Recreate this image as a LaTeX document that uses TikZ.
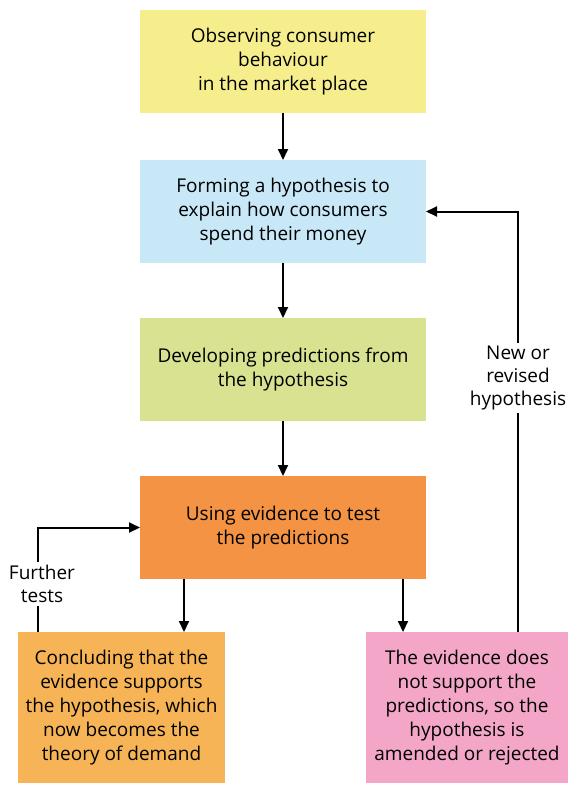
\documentclass[tikz,border=0pt]{standalone}
\usepackage{fontspec}
\setmainfont{Open Sans}
\usetikzlibrary{positioning,arrows.meta}
\definecolor{obsyellow}{HTML}{F6EE8C}
\definecolor{hypblue}{HTML}{C8E8F7}
\definecolor{predgreen}{HTML}{D8E291}
\definecolor{testorange}{HTML}{F39343}
\definecolor{conclorange}{HTML}{F6B457}
\definecolor{rejpink}{HTML}{F3A6C8}
\begin{document}
\begin{tikzpicture}[x=1pt,y=-1pt,>={Triangle[length=11pt,width=10pt]},line width=2pt,
    box/.style={rectangle, minimum width=286pt, minimum height=103pt, align=center, inner sep=0pt, outer sep=0pt, font=\fontsize{19}{24}\selectfont},
    endbox/.style={box, minimum height=151pt},
    lbl/.style={fill=white, align=center, inner sep=3pt, font=\fontsize{19}{23}\selectfont}]
    \useasboundingbox (0,0) rectangle (569,785);

    \node (observe) [box, fill=obsyellow] at (283,61.5) {Observing consumer\\behaviour\\in the market place};
    \node (hypo) [box, fill=hypblue, below=47pt of observe] {Forming a hypothesis to\\explain how consumers\\spend their money};
    \node (predict) [box, fill=predgreen, below=55pt of hypo] {Developing predictions from\\the hypothesis};
    \node (test) [box, fill=testorange, below=55pt of predict] {Using evidence to test\\the predictions};
    \node (conclude) [endbox, fill=conclorange, minimum width=207pt] at (121.5,707.5) {Concluding that the\\evidence supports\\the hypothesis, which\\now becomes the\\theory of demand};
    \node (reject) [endbox, fill=rejpink, minimum width=202pt] at (467,707.5) {The evidence does\\not support the\\predictions, so the\\hypothesis is\\amended or rejected};

    \draw[->] (observe) -- (hypo);
    \draw[->] (hypo) -- (predict);
    \draw[->] (predict) -- (test);
    \draw[->] ([xshift=-99pt]test.south) -- ([xshift=-99pt]test.south |- conclude.north);
    \draw[->] ([xshift=120pt]test.south) -- ([xshift=120pt]test.south |- reject.north);

    % feedback loops
    \draw[->] ([xshift=-83.5pt]conclude.north) |- (test.west);
    \draw[->] ([xshift=51pt]reject.north) |- (hypo.east);
    \node (further) [lbl] at (42,584) {Further\\tests};
    \node (revised) [lbl] at (518,378) {New or\\revised\\hypothesis};
\end{tikzpicture}
\end{document}
